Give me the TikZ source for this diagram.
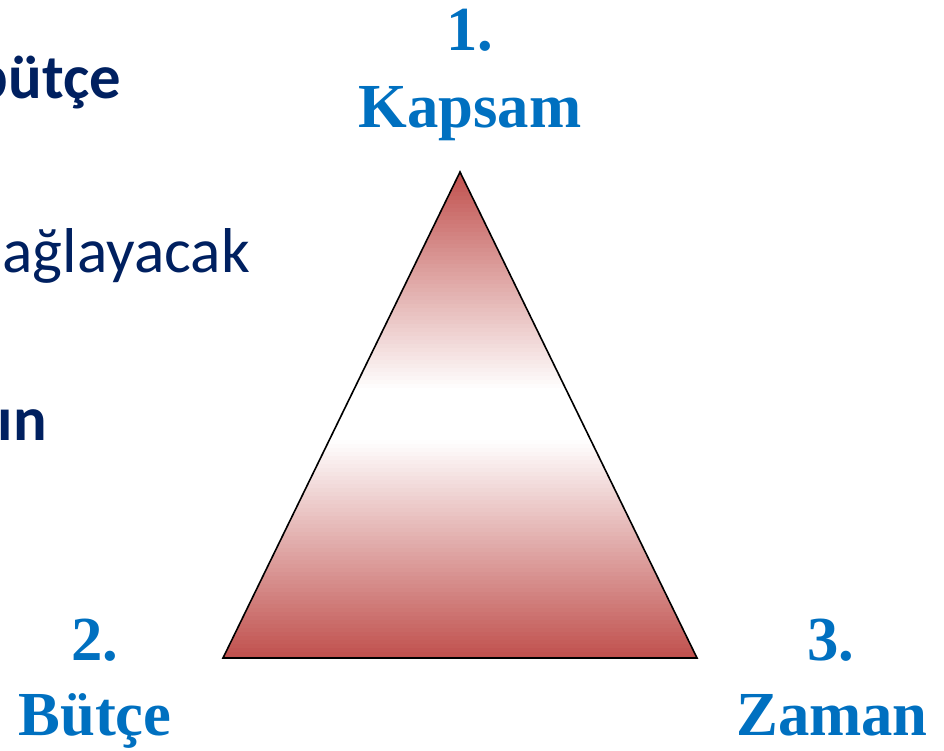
\documentclass[tikz,border=0pt]{standalone}
\usepackage{fontspec}
\setmainfont{Liberation Serif}
\newfontfamily\slidefont{Carlito}
\usetikzlibrary{positioning}
\definecolor{kblue}{HTML}{0070C0}
\definecolor{knavy}{HTML}{002060}
\definecolor{kred}{HTML}{C0504D}
\tikzset{
  corner/.style={text=kblue, font=\fontsize{47}{57}\selectfont\bfseries, inner sep=0pt, anchor=base},
  bullet/.style={text=knavy, font=\slidefont\fontsize{47.5}{56}\selectfont, inner sep=0pt, anchor=base east},
  boldbullet/.style={bullet, font=\slidefont\fontsize{47}{56}\selectfont\bfseries},
  edge/.style={draw=black, line width=1.2pt, line join=miter}
}

\begin{document}
\begin{tikzpicture}[x=0.75pt, y=-0.75pt]
  \useasboundingbox (0,0) rectangle (944,750);
  \clip (0,0) rectangle (944,750);

  % leftover bullet text
  \node[boldbullet] (b1) at (121,98) {bütçe};
  \node[bullet] (b2) at (250,272) {ağlayacak};
  \node[boldbullet] (b3) at (47,440) {ın};

  % triangle
  \coordinate (top) at (460,172);
  \coordinate (left) at (223,658);
  \coordinate (right) at (697,658);
  \begin{scope}
    \clip (top) -- (right) -- (left) -- cycle;
    % red -> white -> red, in thin bands
    \foreach \i in {0,...,121} {
      \pgfmathsetmacro\ya{172+\i*4}
      \pgfmathsetmacro\d{max(0,abs(\ya+2-415)-25)}
      \pgfmathsetmacro\p{min(100,\d/218*100)}
      \fill[kred!\p!white] (200,\ya) rectangle (720,\ya+4.6);
    }
  \end{scope}
  \draw[edge] (top) -- (right) -- (left) -- cycle;

  % corner labels
  \node[corner] (num1) at (470,50) {1.};
  \node[corner] (kapsam) at (470,127) {Kapsam};
  \node[corner] (num2) at (95,660) {2.};
  \node[corner] (butce) at (95,735) {Bütçe};
  \node[corner] (num3) at (831,660) {3.};
  \node[corner] (zaman) at (832,735) {Zaman};
\end{tikzpicture}
\end{document}
